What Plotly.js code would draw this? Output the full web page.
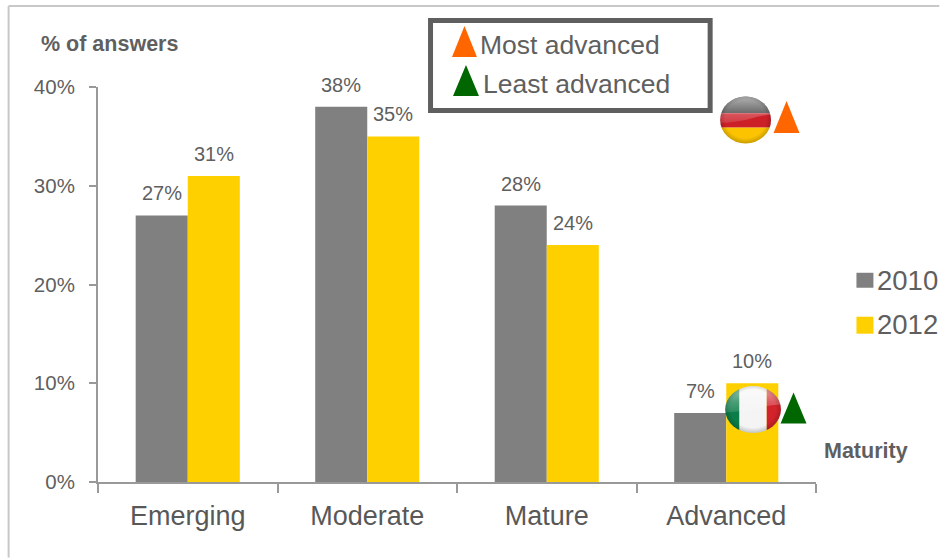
<!DOCTYPE html>
<html>
<head>
<meta charset="utf-8">
<script src="https://cdn.plot.ly/plotly-3.0.1.min.js"></script>
<style>html,body{margin:0;padding:0;background:#fff}#chart{width:940px;height:558px}</style>
</head>
<body>
<div id="chart"></div>
<script>
// Survey results: share of answers per maturity level
const categories = ['Emerging', 'Moderate', 'Mature', 'Advanced'];
const values2010 = [27, 38, 28, 7];
const values2012 = [31, 35, 24, 10];
const seriesNames = ['2010', '2012'];
const seriesColors = ['#808080', '#ffd000'];
const yTickValues = [0, 10, 20, 30, 40];
const yTickLabels = ['0%', '10%', '20%', '30%', '40%'];
const keyLabels = ['Most advanced', 'Least advanced'];
const keyColors = ['#ff6600', '#006600'];

const W = 940, H = 558;
const plot = {l: 97.5, r: 816.5, t: 87, b: 482.5};
const textColor = '#5f5f5f';
const font = 'Liberation Sans, Arial, sans-serif';

// Convert canvas pixels to paper fractions for the decorations around the plot
const px = x => (x - plot.l) / (plot.r - plot.l);
const py = y => (plot.b - y) / (plot.b - plot.t);

function triangle(x0, x1, yTop, yBase, color) {
  const mid = (x0 + x1) / 2;
  return {
    type: 'path', xref: 'paper', yref: 'paper', layer: 'above',
    path: `M${px(x0)},${py(yBase)} L${px(mid)},${py(yTop)} L${px(x1)},${py(yBase)} Z`,
    fillcolor: color, line: {width: 0}
  };
}
function rule(x0, y0, x1, y1) {
  return {type: 'line', xref: 'paper', yref: 'paper',
    x0: px(x0), y0: py(y0), x1: px(x1), y1: py(y1),
    line: {color: '#c8c8c8', width: 2}};
}
function swatch(x0, x1, y0, y1, color) {
  return {type: 'rect', xref: 'paper', yref: 'paper',
    x0: px(x0), x1: px(x1), y0: py(y0), y1: py(y1),
    fillcolor: color, line: {width: 0}};
}
function label(text, x, y, size, weight) {
  return {
    text, xref: 'paper', yref: 'paper', x: px(x - 2), y: py(y),
    xanchor: 'left', yanchor: 'middle', showarrow: false,
    font: {family: font, size, color: textColor, weight: weight || 'normal'}
  };
}

// Glossy round flag badges
const sphereDefs = id => `
  <clipPath id="c${id}"><ellipse cx="50" cy="50" rx="49" ry="49"/></clipPath>
  <linearGradient id="g${id}" x1="0" y1="0" x2="0" y2="1">
    <stop offset="0" stop-color="#fff" stop-opacity="0.62"/>
    <stop offset="0.6" stop-color="#fff" stop-opacity="0.26"/>
    <stop offset="1" stop-color="#fff" stop-opacity="0.12"/>
  </linearGradient>
  <radialGradient id="r${id}" cx="0.5" cy="0.48" r="0.52">
    <stop offset="0.76" stop-color="#000" stop-opacity="0"/>
    <stop offset="1" stop-color="#000" stop-opacity="0.22"/>
  </radialGradient>`;
const gloss = id => `
  <path d="M0,0H100V40C70,38 60,54 0,56Z" fill="url(#g${id})"/>
  <rect width="100" height="100" fill="url(#r${id})"/>`;
function badge(id, stripes) {
  const svg = `<svg xmlns="http://www.w3.org/2000/svg" viewBox="0 0 100 100" preserveAspectRatio="none" width="200" height="200">
    <defs>${sphereDefs(id)}</defs><g clip-path="url(#c${id})">${stripes}${gloss(id)}</g></svg>`;
  return 'data:image/svg+xml;base64,' + btoa(svg);
}
const germany = badge('de',
  '<rect width="100" height="36" fill="#3c3c3c"/>' +
  '<rect y="36" width="100" height="30" fill="#cc2029"/>' +
  '<rect y="66" width="100" height="34" fill="#fcc400"/>');
const italy = badge('it',
  '<rect width="26" height="100" fill="#0b7d48"/>' +
  '<rect x="26" width="48" height="100" fill="#f4f4f4"/>' +
  '<rect x="74" width="26" height="100" fill="#d2222a"/>');
function image(source, x0, x1, y0, y1) {
  return {source, xref: 'paper', yref: 'paper', x: px(x0), y: py(y0),
    sizex: px(x1) - px(x0), sizey: py(y0) - py(y1),
    xanchor: 'left', yanchor: 'top', sizing: 'stretch', layer: 'above'};
}

const traces = [values2010, values2012].map((values, i) => ({
  type: 'bar', name: seriesNames[i], x: categories, y: values,
  marker: {color: seriesColors[i], line: {width: 0}}, hoverinfo: 'x+y+name'
}));

// Value labels sit a fixed distance above their bars
const valueLabels = [];
[values2010, values2012].forEach((values, i) => values.forEach((v, j) => {
  valueLabels.push({
    text: v + '%', x: categories[j], y: v, xref: 'x', yref: 'y',
    xshift: i === 0 ? -26 : 26, yshift: 22, yanchor: 'middle', showarrow: false,
    font: {family: font, size: 20, color: textColor}
  });
}));

const layout = {
  width: W, height: H,
  margin: {l: plot.l, r: W - plot.r, t: plot.t, b: H - plot.b, pad: 0},
  paper_bgcolor: '#fff', plot_bgcolor: '#fff',
  barmode: 'group', bargap: 0.42, bargroupgap: 0, showlegend: false,
  font: {family: font, color: textColor},
  xaxis: {
    type: 'category', tickson: 'boundaries', range: [-0.5, 3.5],
    showgrid: false, zeroline: false, showline: true,
    linecolor: '#999', linewidth: 2, ticks: 'outside', ticklen: 9, tickwidth: 2, tickcolor: '#999',
    tickfont: {family: font, size: 27, color: '#585858'}, ticklabelstandoff: 9, fixedrange: true
  },
  yaxis: {
    range: [0, 40], tickmode: 'array', tickvals: yTickValues, ticktext: yTickLabels,
    showgrid: false, zeroline: false, showline: true,
    linecolor: '#999', linewidth: 2, ticks: 'outside', ticklen: 7, tickwidth: 2, tickcolor: '#999',
    tickfont: {family: font, size: 20.5, color: textColor}, ticklabelstandoff: 10, fixedrange: true
  },
  shapes: [
    rule(8, 6, 940, 6), rule(8, 6, 8, 558),
    {type: 'rect', xref: 'paper', yref: 'paper', x0: px(430.5), x1: px(710.5), y0: py(20.5), y1: py(110.5),
      fillcolor: 'rgba(0,0,0,0)', line: {color: '#5f5f5f', width: 5}},
    triangle(452, 477, 26, 57, keyColors[0]),
    triangle(453, 479, 65, 96, keyColors[1]),
    triangle(774, 800, 101, 133, keyColors[0]),
    triangle(781, 807, 393, 424, keyColors[1]),
    swatch(857, 874, 273, 288, seriesColors[0]),
    swatch(857, 874, 317, 334, seriesColors[1])
  ],
  images: [image(germany, 720, 772, 96, 144), image(italy, 725, 782, 386, 434)],
  annotations: valueLabels.concat([
    label('% of answers', 40.5, 43.5, 21.5, 'bold'),
    label('Maturity', 825, 451, 21.5, 'bold'),
    label(keyLabels[0], 480, 45, 26.5),
    label(keyLabels[1], 483, 84, 26.5),
    label(seriesNames[0], 877.5, 281, 27.5),
    label(seriesNames[1], 877.5, 325, 27.5)
  ])
};

Plotly.newPlot('chart', traces, layout, {displayModeBar: false, responsive: false});
</script>
</body>
</html>
